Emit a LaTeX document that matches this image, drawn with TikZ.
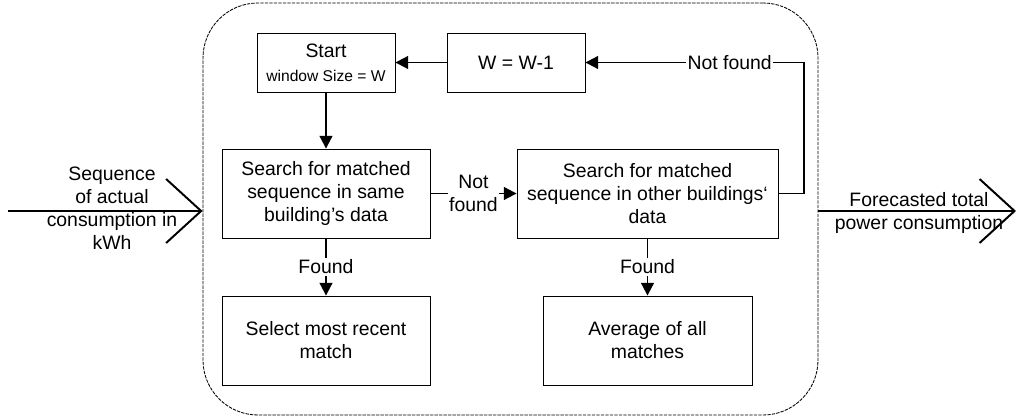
\documentclass[tikz,border=0pt]{standalone}
\usepackage{fontspec}
\setmainfont{Liberation Sans}
\usetikzlibrary{arrows.meta,positioning}

\begin{document}
\begin{tikzpicture}[>={Triangle[length=3.2mm,width=3.2mm]},
  every node/.style={font=\fontsize{13.8}{16.3}\selectfont},
  box/.style={draw, line width=0.6pt, align=center, inner sep=2pt, minimum height=22.25mm},
  lbl/.style={fill=white, inner sep=1pt, align=center},
  flow/.style={->, line width=1.4pt},
  big/.style={line width=1.4pt, -{Straight Barb[length=8.75mm,width=16mm]}}]
\useasboundingbox (0,0) rectangle (25.4,10.45);
% dashed frame round the matching procedure
\node[draw, line width=0.6pt, dash pattern=on 2.4pt off 0.8pt, rounded corners=13.75mm,
  minimum width=153.75mm, minimum height=103mm] (frame) at (12.7625,5.225) {};
\node[box, minimum width=34.5mm, minimum height=14.75mm] (start) at (8.15,8.8875)
  {Start\\[1pt]{\fontsize{11.1}{13}\selectfont window Size = W}};
\node[box, minimum width=34.5mm, minimum height=14.75mm] (dec) at (12.9,8.8875) {W = W-1};
\node[box, minimum width=52mm] (same) at (8.15,5.6125)
  {Search for matched\\sequence in same\\building’s data};
\node[box, minimum width=65.25mm] (other) at (16.1875,5.6125)
  {Search for matched\\sequence in other buildings‘\\data};
\node[box, minimum width=52mm] (recent) at (8.15,1.9375) {Select most recent\\match};
\node[box, minimum width=52.25mm] (avg) at (16.1875,1.9375) {Average of all\\matches};
\coordinate (turn) at (20.1,8.8875);
\coordinate (src) at (0.2,5.175);
\coordinate (snk) at (25.4,5.175);
\node[align=center] (inlbl) at (2.8,5.25) {Sequence\\of actual\\consumption in\\kWh};
\node[align=center] (outlbl) at (22.975,5.125) {Forecasted total\\power consumption};
\draw[flow] (dec) -- (start);
\draw[flow] (start) -- (same);
\draw[flow] (same) -- node[lbl]{Not\\found} (other);
\draw[flow] (same) -- node[lbl]{Found} (recent);
\draw[flow] (other) -- node[lbl]{Found} (avg);
\draw[flow] (other.east) -| (turn) -- node[lbl, pos=0.34]{Not found} (dec.east);
\draw[big] (src) -- (src -| frame.west);
\draw[big] (frame.east |- snk) -- (snk);
\end{tikzpicture}
\end{document}
